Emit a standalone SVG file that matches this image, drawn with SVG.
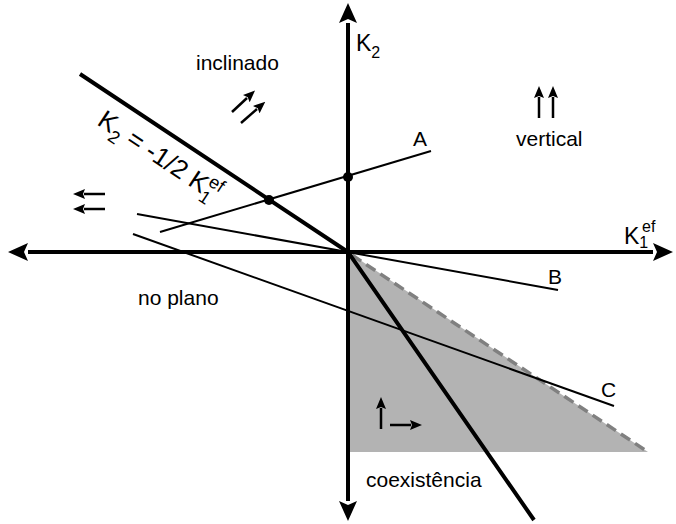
<svg xmlns="http://www.w3.org/2000/svg" width="676" height="524" viewBox="0 0 676 524">
<defs>
<marker id="big" viewBox="0 0 20 18" refX="0" refY="9" markerWidth="20" markerHeight="18" markerUnits="userSpaceOnUse" orient="auto"><path d="M0,0 L20,9 L0,18 L4,9 Z" fill="#000"/></marker>
<marker id="sm" viewBox="0 0 12 10" refX="1" refY="5" markerWidth="12" markerHeight="10" markerUnits="userSpaceOnUse" orient="auto"><path d="M0,0 L12,5 L0,10 L2,5 Z" fill="#000"/></marker>
<style>
text{font-family:"Liberation Sans",Arial,sans-serif;font-size:21px;fill:#000}
text.k{font-size:23px}
text.eq{font-size:26px}
.s16{font-size:16px}
.s18{font-size:18px}
.ax{stroke:#000;stroke-width:4;fill:none}
.th{stroke:#000;stroke-width:4;fill:none}
.ln{stroke:#000;stroke-width:2;fill:none}
.ar{stroke:#000;stroke-width:2.5;fill:none;marker-end:url(#sm)}
</style>
</defs>
<g id="region">
<polygon points="348,252 648,452 348,452" fill="#b3b3b3"/>
<line x1="352" y1="255" x2="648" y2="452" stroke="#808080" stroke-width="3.5" stroke-dasharray="11,6"/>
</g>
<g id="connectors">
<line class="ax" x1="348" y1="252" x2="348" y2="23" marker-end="url(#big)"/>
<line class="ax" x1="348" y1="252" x2="348" y2="501" marker-end="url(#big)"/>
<line class="ax" x1="348" y1="252" x2="28" y2="252" marker-end="url(#big)"/>
<line class="ax" x1="348" y1="252" x2="653" y2="252" marker-end="url(#big)"/>
<polyline class="th" points="80,74 348,252 534,520"/>
<line class="ln" x1="160" y1="232" x2="431" y2="151"/>
<line class="ln" x1="137" y1="214" x2="558" y2="290"/>
<line class="ln" x1="133" y1="234" x2="614" y2="406"/>
<circle cx="269" cy="200" r="5"/>
<circle cx="348" cy="177" r="5"/>
</g>
<g id="arrows">
<line class="ar" x1="232" y1="112" x2="247" y2="98"/>
<line class="ar" x1="241" y1="123" x2="257" y2="109"/>
<line class="ar" x1="539" y1="118" x2="539" y2="97"/>
<line class="ar" x1="553" y1="118" x2="553" y2="97"/>
<line class="ar" x1="105" y1="194" x2="84" y2="194"/>
<line class="ar" x1="105" y1="209" x2="84" y2="209"/>
<line class="ar" x1="381" y1="429" x2="381" y2="408"/>
<line class="ar" x1="390" y1="425" x2="411" y2="425"/>
</g>
<g id="labels">
<text x="196" y="70">inclinado</text>
<text x="516" y="146">vertical</text>
<text x="138" y="305">no plano</text>
<text x="366" y="487">coexistência</text>
<text x="413" y="146">A</text>
<text x="548" y="284">B</text>
<text x="601" y="397">C</text>
<text class="k" x="356" y="51">K<tspan class="s16" dy="7">2</tspan></text>
<text class="k" x="624" y="244">K<tspan class="s16" dy="4">1</tspan><tspan class="s16" x="642" dy="-16">ef</tspan></text>
<text class="eq" transform="translate(96,124) rotate(33.6)">K<tspan class="s18" dy="7">2</tspan><tspan dy="-7"> = -1/2 K</tspan><tspan class="s18" dy="7">1</tspan><tspan class="s18" dx="-10" dy="-18">ef</tspan></text>
</g>
</svg>
